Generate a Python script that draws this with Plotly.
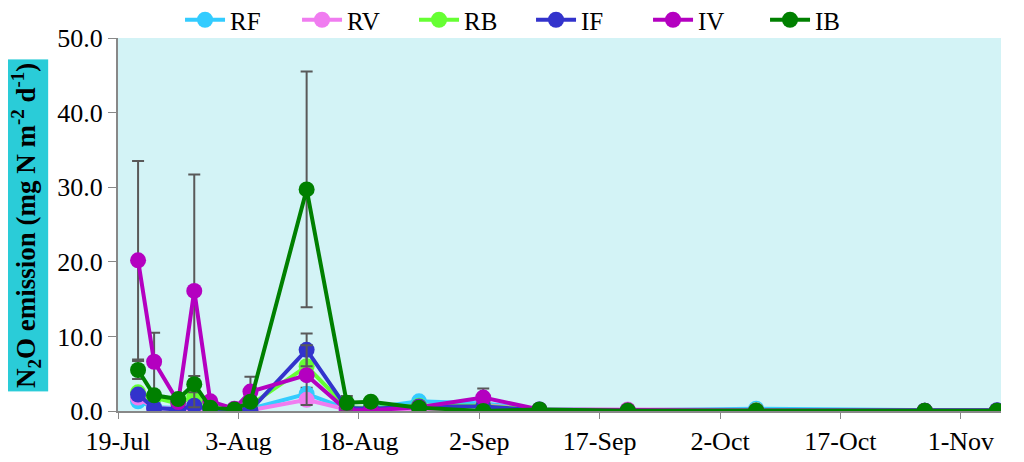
import plotly.graph_objects as go

# sampling dates (midday)
dates = ["2013-07-21 12:00", "2013-07-23 12:00", "2013-07-26 12:00", "2013-07-28 12:00",
         "2013-07-30 12:00", "2013-08-02 12:00", "2013-08-04 12:00", "2013-08-11 12:00",
         "2013-08-16 12:00", "2013-08-19 12:00", "2013-08-25 12:00", "2013-09-02 12:00",
         "2013-09-09 12:00", "2013-09-20 12:00", "2013-10-06 12:00", "2013-10-27 12:00",
         "2013-11-05 12:00"]

series_names = ["RF", "RV", "RB", "IF", "IV", "IB"]

RF = [1.3, 0.5, 0.4, 0.6, 0.3, 0.2, 0.3, 2.3, 0.3, 0.4, 1.3, 1.0, 0.2, 0.1, 0.3, 0.05, 0.05]
RV = [1.8, 0.4, 0.3, 0.4, 0.2, 0.1, 0.1, 1.5, 0.2, 0.2, 0.0, 0.8, 0.15, 0.2, 0.1, 0.05, 0.05]
RB = [2.5, 1.8, 1.0, 2.0, 0.4, 0.2, 0.8, 6.0, 0.5, 0.4, 0.7, 0.7, 0.15, 0.1, 0.1, 0.05, 0.05]
IF = [2.2, 0.4, 0.2, 0.7, 0.2, 0.1, 0.1, 8.2, 0.4, 0.3, 0.6, 0.6, 0.1, 0.05, 0.05, 0.05, 0.1]
IV = [20.2, 6.6, 1.2, 16.1, 1.3, 0.3, 2.6, 4.8, 0.1, 0.1, 0.5, 1.8, 0.2, 0.1, 0.05, 0.05, 0.05]
IB = [5.5, 2.1, 1.6, 3.6, 0.45, 0.2, 1.25, 29.7, 1.1, 1.25, 0.45, 0.0, 0.2, 0.05, 0.05, 0.05, 0.05]

RF_err = [0, 0, 0, 0, 0, 0, 0, 0.8, 0, 0, 0, 0, 0, 0, 0, 0, 0]
RV_err = [0, 0, 0, 0, 0, 0, 0, 0, 0, 0, 0, 0, 0, 0, 0, 0, 0]
RB_err = [0, 0, 0, 0, 0, 0, 0, 0, 0, 0, 0, 0, 0, 0, 0, 0, 0]
IF_err = [0, 0, 0, 0, 0, 0, 0, 2.2, 0, 0, 0, 0, 0, 0, 0, 0, 0]
IV_err = [13.3, 3.9, 0, 15.6, 0.5, 0, 2.0, 4.0, 0, 0, 0, 1.2, 0, 0, 0, 0, 0]
IB_err = [1.2, 0, 0, 1.1, 0, 0, 0, 15.8, 0.9, 0, 0, 0, 0, 0, 0, 0, 0]

values = [RF, RV, RB, IF, IV, IB]
errors = [RF_err, RV_err, RB_err, IF_err, IV_err, IB_err]
colors = ["#33CCFF", "#F07CF0", "#66FF33", "#3333CC", "#B400C0", "#008000"]

FONT = "Liberation Serif, Times New Roman, serif"

fig = go.Figure()
for name, vals, errs, col in zip(series_names, values, errors, colors):
    fig.add_trace(go.Scatter(
        x=dates, y=vals, name=name, mode="lines+markers",
        line=dict(color=col, width=4),
        marker=dict(color=col, size=16),
        error_y=dict(type="data", array=errs, visible=True,
                     color="#595959", thickness=2, width=6),
    ))

fig.update_layout(
    width=1024, height=462,
    margin=dict(l=110, r=31, t=30, b=59, autoexpand=False),
    paper_bgcolor="white",
    plot_bgcolor="#D3F3F6",
    font=dict(family=FONT, size=26, color="black"),
    showlegend=True,
    legend=dict(orientation="h", xref="container", yref="container",
                x=0.168, xanchor="left", y=0.974, yanchor="middle",
                font=dict(family=FONT, size=25, color="black"),
                bgcolor="rgba(0,0,0,0)", entrywidth=62, itemwidth=40,
                tracegroupgap=0),
    xaxis=dict(
        type="date",
        range=["2013-07-19", "2013-11-06"],
        tick0="2013-07-19", dtick=15 * 86400000,
        tickformat="%-d-%b",
        ticks="outside", ticklen=6, tickcolor="#888888",
        showline=True, linecolor="#888888", linewidth=2,
        showgrid=False, zeroline=False,
        tickfont=dict(family=FONT, size=26),
    ),
    yaxis=dict(
        range=[0, 50], dtick=10, tickformat=".1f",
        ticks="outside", ticklen=8, tickcolor="#888888",
        showline=True, linecolor="#888888", linewidth=2,
        showgrid=False, zeroline=False,
        tickfont=dict(family=FONT, size=26),
    ),
    annotations=[dict(
        text="<b>N<sub>2</sub>O emission (mg N m<sup>-2</sup> d<sup>-1</sup>)</b>",
        xref="paper", yref="paper", x=-0.105, y=0.497,
        xanchor="center", yanchor="middle", textangle=-90, showarrow=False,
        bgcolor="#2ACCD8", borderpad=3,
        font=dict(family=FONT, size=27, color="black"),
    )],
)

fig.write_html("out.html")
